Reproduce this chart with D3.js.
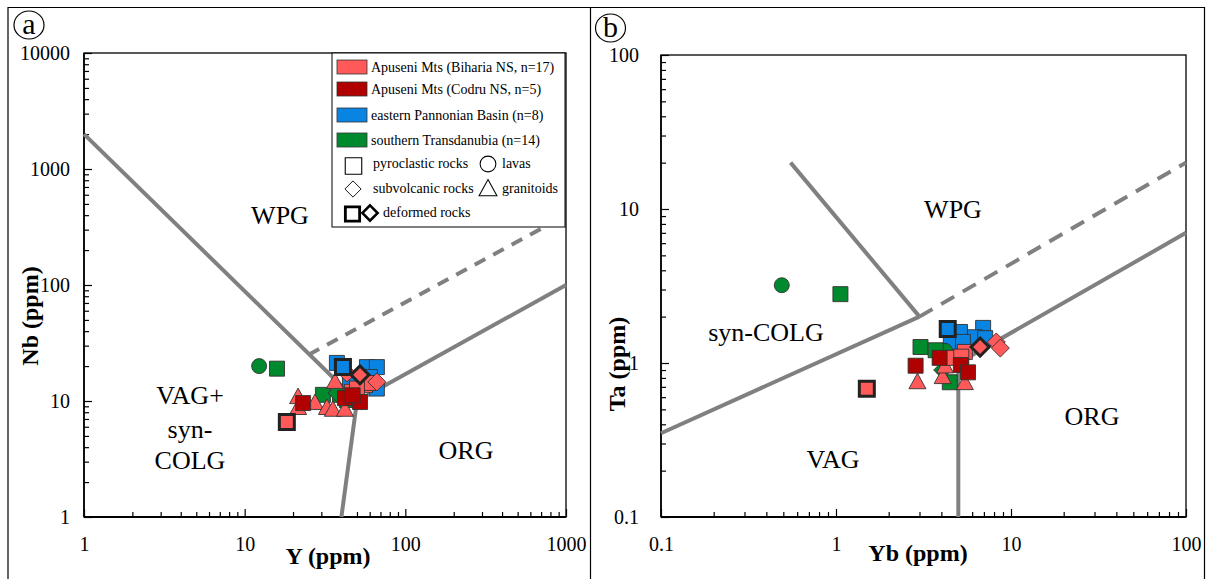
<!DOCTYPE html>
<html><head><meta charset="utf-8">
<script src="https://cdn.jsdelivr.net/npm/d3@7/dist/d3.min.js"></script>
<style>html,body{margin:0;padding:0;background:#fff}svg{display:block}</style>
</head><body>
<script>
// ---------- DATA ----------
const groupNames = ["Apuseni Mts (Biharia NS, n=17)","Apuseni Mts (Codru NS, n=5)","eastern Pannonian Basin (n=8)","southern Transdanubia (n=14)"];
const groupKeys = ["biharia","codru","pannonian","transdanubia"];

// Panel a: [Y ppm, Nb ppm, shape, deformed]
const aBiharia = [[18.3,6.6,"square",1],[21.5,10.8,"triangle",0],[21.5,8.7,"triangle",0],[27.4,9.6,"triangle",0],[32.5,8.7,"triangle",0],[35.4,8.4,"triangle",0],[42.1,8.4,"triangle",0],[36.5,14.6,"triangle",0],[43.3,17.4,"diamond",0],[46.5,12.0,"square",0],[56.1,13.7,"square",0],[60.2,14.3,"square",0],[66.5,14.6,"diamond",0],[50,12.8,"square",0],[52.2,16.8,"diamond",1]];
const aCodru = [[23.1,9.6,"square",0],[42.1,10.6,"square",0],[52.2,9.8,"square",0],[47,11.2,"square",0]];
const aPannonian = [[37.5,21.3,"square",0],[57.7,19.6,"square",0],[66.5,19.6,"square",0],[60.2,16.1,"square",0],[66.5,12.8,"square",0],[45.2,15.2,"square",0],[40.9,19.6,"square",1]];
const aTransdanubia = [[12.3,20,"circle",0],[15.9,19,"square",0],[30.7,11.3,"square",0],[39.2,11.3,"square",0],[43.3,10.2,"square",0],[37.5,11.7,"diamond",0]];

// Panel b: [Yb ppm, Ta ppm, shape, deformed]
const bBiharia = [[1.5,0.68,"square",1],[2.92,0.75,"triangle",0],[4.07,0.81,"triangle",0],[5.45,0.74,"triangle",0],[4.2,0.95,"triangle",0],[4.65,1.08,"square",0],[5.45,1.18,"square",0],[5.2,1.1,"square",0],[8.24,1.37,"diamond",0],[8.69,1.25,"diamond",0],[6.66,1.27,"diamond",1]];
const bCodru = [[2.85,0.96,"square",0],[3.91,1.08,"square",0],[5.17,0.97,"square",0],[5.68,0.87,"square",0]];
const bPannonian = [[5.11,1.59,"square",0],[4.53,1.37,"square",0],[6.93,1.69,"square",0],[6.23,1.47,"square",0],[7.12,1.45,"square",0],[5.31,1.37,"square",0],[4.35,1.66,"square",1]];
const bTransdanubia = [[0.49,3.2,"circle",0],[1.06,2.8,"square",0],[4.2,1.2,"circle",0],[3.04,1.27,"square",0],[3.71,1.21,"square",0],[4.47,0.75,"square",0],[4.07,0.9,"diamond",0]];

// Discrimination boundaries (data space)
const aSolid = [[[1,2000],[50,10]],[[50,10],[1000,100]],[[50,10],[40,1]]];
const aDashed = [[[25,25],[1000,400]]];
const bSolid = [[[0.55,20],[3,2]],[[0.1,0.35],[3,2]],[[5,0.1],[5,1]],[[5,1],[100,7]]];
const bDashed = [[[3,2],[100,20]]];

const aXTicks = [1,10,100,1000];
const aYTicks = [1,10,100,1000,10000];
const bXTicks = [0.1,1,10,100];
const bYTicks = [0.1,1,10,100];

const aFields = [["WPG",280,224],["VAG+",190,404],["syn-",190,438],["COLG",190,469],["ORG",466,459]];
const bFields = [["WPG",953,218],["syn-COLG",766,341],["VAG",833,468],["ORG",1092,425]];

// ---------- STYLE ----------
const colors = {biharia:"#FF5959",codru:"#B00000",pannonian:"#0A84E2",transdanubia:"#008A2E"};
const FONT = "'Liberation Serif','Times New Roman',serif";

const svg = d3.select("body").append("svg").attr("width",1208).attr("height",579);

// frame
svg.append("path").attr("d","M8,579 V7.5 H1204.5 V579 M590.5,7.5 V579").attr("fill","none").attr("stroke","#000").attr("stroke-width",1.2);

function shapePath(shape){
  if(shape==="square") return "M-7.5,-7.5H7.5V7.5H-7.5Z";
  if(shape==="diamond") return "M0,-9L9,0L0,9L-9,0Z";
  if(shape==="triangle") return "M0,-9L8.5,6.5H-8.5Z";
  if(shape==="circle") return d3.arc()({innerRadius:0,outerRadius:7.5,startAngle:0,endAngle:2*Math.PI});
}

function panel(cfg){
  const x = d3.scaleLog().domain(cfg.xd).range([cfg.l,cfg.r]);
  const y = d3.scaleLog().domain(cfg.yd).range([cfg.b,cfg.t]);
  const g = svg.append("g");
  // minor ticks
  const minor = (d)=>{const out=[];const lo=Math.round(Math.log10(d[0])),hi=Math.round(Math.log10(d[1]));for(let e=lo;e<hi;e++){for(let k=2;k<=9;k++)out.push(k*Math.pow(10,e));}return out;};
  g.append("g").attr("transform",`translate(0,${cfg.b})`).call(d3.axisBottom(x).tickValues(minor(cfg.xd)).tickSize(-5).tickFormat("")).call(s=>s.select(".domain").remove());
  g.append("g").attr("transform",`translate(${cfg.l},0)`).call(d3.axisLeft(y).tickValues(minor(cfg.yd)).tickSize(-5).tickFormat("")).call(s=>s.select(".domain").remove());
  const fmt = d=>String(d);
  const xa = g.append("g").attr("transform",`translate(0,${cfg.b})`).call(d3.axisBottom(x).tickValues(cfg.xt).tickSize(-8).tickPadding(20).tickFormat(fmt));
  const ya = g.append("g").attr("transform",`translate(${cfg.l},0)`).call(d3.axisLeft(y).tickValues(cfg.yt).tickSize(-8).tickPadding(cfg.ypad).tickFormat(fmt));
  [xa,ya].forEach(a=>{a.select(".domain").remove();a.selectAll("line").attr("stroke","#000").attr("stroke-width",1.2);a.selectAll("text").attr("font-family",FONT).attr("font-size",20).attr("fill","#000");});
  g.selectAll(".tick line").attr("stroke","#000").attr("stroke-width",1.2);
  // box
  g.append("rect").attr("x",cfg.l).attr("y",cfg.t).attr("width",cfg.r-cfg.l).attr("height",cfg.b-cfg.t).attr("fill","none").attr("stroke","#000").attr("stroke-width",1.3);
  g.append("line").attr("x1",cfg.l).attr("x2",cfg.r).attr("y1",cfg.b).attr("y2",cfg.b).attr("stroke","#000").attr("stroke-width",2);
  g.append("line").attr("x1",cfg.l).attr("x2",cfg.l).attr("y1",cfg.t).attr("y2",cfg.b).attr("stroke","#000").attr("stroke-width",1.6);
  // boundaries
  const ln = d3.line().x(d=>x(d[0])).y(d=>y(d[1]));
  cfg.solid.forEach(s=>g.append("path").attr("d",ln(s)).attr("fill","none").attr("stroke","#808080").attr("stroke-width",4));
  cfg.dashed.forEach(s=>g.append("path").attr("d",ln(s)).attr("fill","none").attr("stroke","#808080").attr("stroke-width",4).attr("stroke-dasharray",cfg.dash));
  // field labels
  cfg.fields.forEach(f=>g.append("text").attr("x",f[1]).attr("y",f[2]).attr("text-anchor","middle").attr("font-family",FONT).attr("font-size",26).text(f[0]));
  // points
  const draw = (arr,key,def)=>arr.filter(d=>!!d[3]===def).forEach(d=>{
    g.append("path").attr("d",shapePath(d[2])).attr("transform",`translate(${x(d[0])},${y(d[1])})`)
      .attr("fill",colors[key]).attr("stroke",def?"#222":"#333").attr("stroke-width",def?3:0.9);
  });
  const order=[["pannonian",cfg.data.pannonian],["transdanubia",cfg.data.transdanubia],["biharia",cfg.data.biharia],["codru",cfg.data.codru]];
  order.forEach(o=>draw(o[1],o[0],false));
  order.forEach(o=>draw(o[1],o[0],true));
  // axis titles
  g.append("text").attr("x",cfg.xtx).attr("y",cfg.xty).attr("text-anchor","middle").attr("font-family",FONT).attr("font-weight","bold").attr("font-size",24).text(cfg.xlabel);
  g.append("text").attr("transform",`translate(${cfg.ytx},${cfg.yty}) rotate(-90)`).attr("text-anchor","middle").attr("font-family",FONT).attr("font-weight","bold").attr("font-size",24).text(cfg.ylabel);
  // panel letter
  g.append("ellipse").attr("cx",cfg.lx).attr("cy",cfg.ly).attr("rx",15).attr("ry",14).attr("fill","none").attr("stroke","#000").attr("stroke-width",1.2);
  g.append("text").attr("x",cfg.lx).attr("y",cfg.ly+9).attr("text-anchor","middle").attr("font-family",FONT).attr("font-size",30).text(cfg.letter);
}

panel({xd:[1,1000],yd:[1,10000],l:84,r:566,t:53,b:517,xt:aXTicks,yt:aYTicks,ypad:14,
  solid:aSolid,dashed:aDashed,dash:"12,9",fields:aFields,
  data:{biharia:aBiharia,codru:aCodru,pannonian:aPannonian,transdanubia:aTransdanubia},
  xlabel:"Y (ppm)",ylabel:"Nb (ppm)",xtx:328,xty:564,ytx:38,yty:316,lx:29,ly:25,letter:"a"});
panel({xd:[0.1,100],yd:[0.1,100],l:661,r:1186,t:55,b:517,xt:bXTicks,yt:bYTicks,ypad:22,
  solid:bSolid,dashed:bDashed,dash:"15,10",fields:bFields,
  data:{biharia:bBiharia,codru:bCodru,pannonian:bPannonian,transdanubia:bTransdanubia},
  xlabel:"Yb (ppm)",ylabel:"Ta (ppm)",xtx:918,xty:561,ytx:625,yty:364,lx:610.5,ly:28,letter:"b"});

// ---------- LEGEND ----------
const lg = svg.append("g");
lg.append("rect").attr("x",332).attr("y",53).attr("width",233).attr("height",174).attr("fill","#fff").attr("stroke","#000").attr("stroke-width",1);
const rowY = [67,89,115,140];
groupKeys.forEach((k,i)=>{
  lg.append("rect").attr("x",337).attr("y",rowY[i]-7).attr("width",30).attr("height",14).attr("fill",colors[k]).attr("stroke","#333").attr("stroke-width",0.8);
  lg.append("text").attr("x",371).attr("y",rowY[i]+5).attr("font-family",FONT).attr("font-size",14).text(groupNames[i]);
});
const lt=(t,x,y)=>lg.append("text").attr("x",x).attr("y",y+5).attr("font-family",FONT).attr("font-size",14).text(t);
const lm=(shape,x,y,def,sc)=>lg.append("path").attr("d",shapePath(shape)).attr("transform",`translate(${x},${y}) scale(${sc||1})`).attr("fill","#fff").attr("stroke","#000").attr("stroke-width",def?3:1);
lm("square",353.5,166,false,1.1); lt("pyroclastic rocks",373,163);
lm("circle",488,164,false,1.05); lt("lavas",502,163);
lm("diamond",353,189,false,0.9); lt("subvolcanic rocks",373,188);
lm("triangle",488,189,false,1.05); lt("granitoids",502,188);
lm("square",352.5,214,true,0.95); lm("diamond",370,213,true,0.85); lt("deformed rocks",383,212);
</script>
</body></html>
